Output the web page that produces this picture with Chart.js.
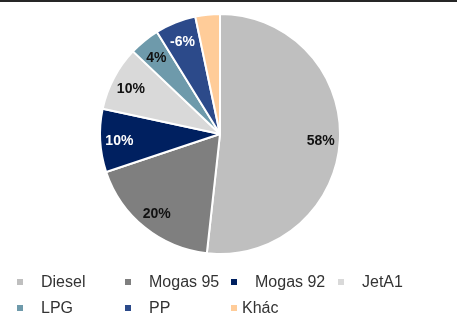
<!DOCTYPE html>
<html>
<head>
<meta charset="utf-8">
<script src="https://cdn.jsdelivr.net/npm/chart.js@4/dist/chart.umd.min.js"></script>
<style>
    body { margin: 0; background: #fff; }
    #wrap { position: relative; width: 457px; height: 316px; overflow: hidden; }
    #topline { position: absolute; left: 0; top: 0; width: 457px; height: 2px; background: #262626; }
    #myChart { position: absolute; left: 0; top: 0; }
    #legend { position: absolute; left: 0; top: 272px; width: 457px; font-family: "Liberation Sans", Arial, sans-serif; font-size: 16px; color: #333; }
    .item { position: absolute; height: 20px; line-height: 20px; white-space: nowrap; }
    .box { position: absolute; top: 7px; width: 6px; height: 6px; }
</style>
</head>
<body>
<div id="wrap">
    <canvas id="myChart" width="457" height="316"></canvas>
    <div id="topline"></div>
    <div id="legend"></div>
</div>
<script>
// slice shares and the growth figures printed on them
const products = ['Diesel', 'Mogas 95', 'Mogas 92', 'JetA1', 'LPG', 'PP', 'Khác']
const shares = [51.7, 18.1, 8.5, 8.7, 4.1, 5.5, 3.3]
const growth = [58, 20, 10, 10, 4, -6, null]

const colors = ['#bfbfbf', '#7f7f7f', '#002060', '#d9d9d9', '#6e9aab', '#2c4a8a', '#ffcc99']
const labelColors = ['#111', '#111', '#fff', '#111', '#111', '#fff', '#111']

// draw the growth labels inside each slice
const sliceLabels = {
    id: 'sliceLabels',
    afterDatasetsDraw(chart) {
        const ctx = chart.ctx
        const arcs = chart.getDatasetMeta(0).data
        ctx.save()
        ctx.font = 'bold 14px "Liberation Sans", Arial, sans-serif'
        ctx.textAlign = 'center'
        ctx.textBaseline = 'middle'
        arcs.forEach((arc, i) => {
            if (growth[i] === null) return
            const mid = (arc.startAngle + arc.endAngle) / 2
            const r = arc.outerRadius * 0.84
            ctx.fillStyle = labelColors[i]
            ctx.fillText(growth[i] + '%', arc.x + Math.cos(mid) * r, arc.y + Math.sin(mid) * r + 2)
        })
        ctx.restore()
    }
}

const data = {
    labels: products,
    datasets: [{
        data: shares,
        backgroundColor: colors,
        borderColor: '#ffffff',
        borderWidth: 2
    }]
}

const config = {
    type: 'pie',
    data: data,
    options: {
        responsive: false,
        animation: false,
        radius: 120,
        layout: { padding: { left: 0, right: 17, top: 0, bottom: 48 } },
        plugins: {
            legend: { display: false },
            tooltip: { enabled: false }
        }
    },
    plugins: [sliceLabels]
}

const myChart = new Chart(document.getElementById('myChart'), config)

// legend in a 4 column grid, like the original
const colX = [17, 125, 231, 338]
const legend = document.getElementById('legend')
products.forEach((name, i) => {
    const row = Math.floor(i / 4)
    const col = i % 4
    const item = document.createElement('div')
    item.className = 'item'
    item.style.left = colX[col] + 'px'
    item.style.top = (row * 26) + 'px'
    const gap = name === 'Khác' ? 11 : 24
    item.innerHTML = `<span class="box" style="background:${colors[i]}"></span><span style="margin-left:${gap}px">${name}</span>`
    legend.appendChild(item)
})
</script>
</body>
</html>
